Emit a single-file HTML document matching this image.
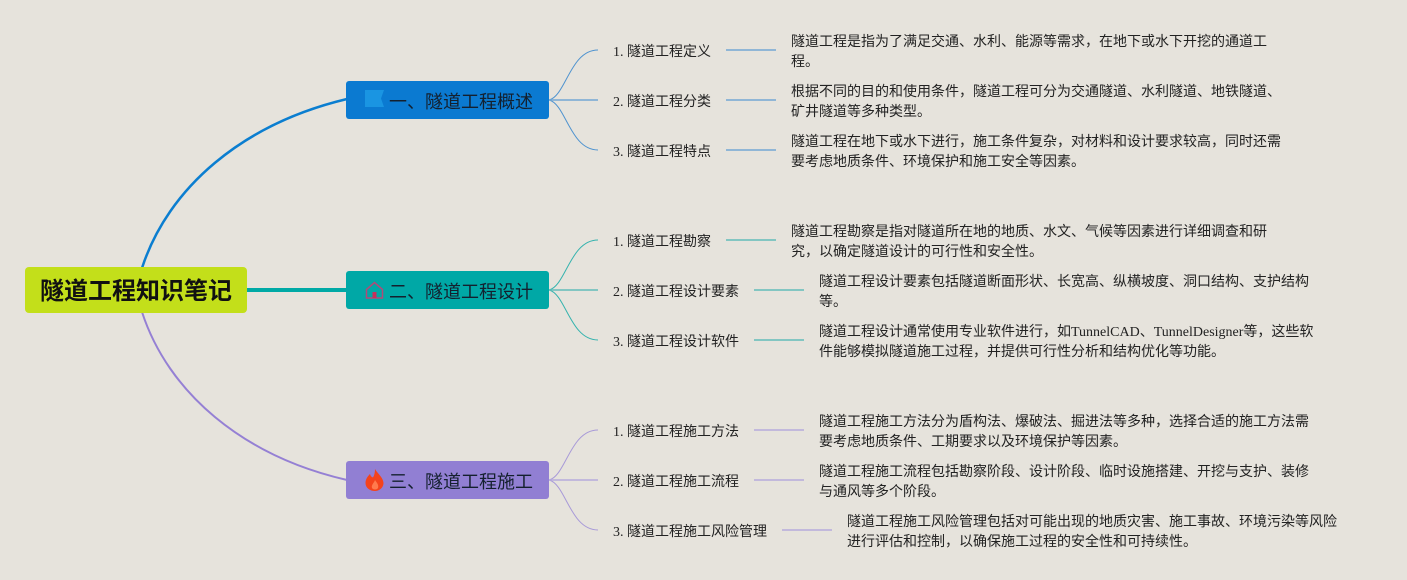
<!DOCTYPE html>
<html lang="zh">
<head>
<meta charset="utf-8">
<style>
html,body{margin:0;padding:0;width:1407px;height:580px;overflow:hidden;background:#e6e3dc}
body{position:relative;font-family:"Liberation Serif","WenQuanYi Zen Hei","Noto Sans CJK SC",serif;color:#222}
#w{position:absolute;left:0;top:0;width:1407px;height:580px;filter:blur(0.35px)}
svg{position:absolute;left:0;top:0}
.t{position:absolute;font-size:14px;line-height:20px;white-space:nowrap}
.b{position:absolute;border-radius:3px;height:38px;width:203px;left:346px;line-height:38px;font-size:18px;color:#14202e;white-space:nowrap}
.b span{position:absolute;left:43px;top:2px}
.r{position:absolute;left:25px;top:267px;width:222px;height:46px;background:#c3df1a;border-radius:4px;font-size:24px;font-weight:bold;line-height:50px;text-align:center;color:#111;white-space:nowrap}
</style>
</head>
<body>
<div id="w">
<svg width="1407" height="580" viewBox="0 0 1407 580" fill="none">
<path d="M142 268C168 188 242 124 347 99" stroke="#0b7ed0" stroke-width="2.5"/>
<path d="M247 290H347" stroke="#00a9a5" stroke-width="4"/>
<path d="M142 312C168 392 242 456 347 480" stroke="#9580d4" stroke-width="2"/>
<g stroke="#4f93cf" stroke-width="1">
<path d="M549 100C566 96 570 50 598 50"/><path d="M549 100C566 104 570 150 598 150"/>
<path d="M549 100H598" stroke-width="1.500" stroke="#74a8d4"/>
<path d="M726 50H776M726 100H776M726 150H776" stroke-width="1.500" stroke="#74a8d4"/>
</g>
<g stroke="#35b3ae" stroke-width="1">
<path d="M549 290C566 286 570 240 598 240"/><path d="M549 290C566 294 570 340 598 340"/>
<path d="M549 290H598" stroke-width="1.500" stroke="#62bdb9"/>
<path d="M726 240H776M754 290H804M754 340H804" stroke-width="1.500" stroke="#62bdb9"/>
</g>
<g stroke="#a89ad8" stroke-width="1">
<path d="M549 480C566 476 570 430 598 430"/><path d="M549 480C566 484 570 530 598 530"/>
<path d="M549 480H598" stroke-width="1.500" stroke="#b6abdc"/>
<path d="M754 430H804M754 480H804M782 530H832" stroke-width="1.500" stroke="#b6abdc"/>
</g>
</svg>

<div class="r">隧道工程知识笔记</div>

<div class="b" style="top:81px;background:#0b7ad1"><span>一、隧道工程概述</span></div>
<div class="b" style="top:271px;background:#00a8a6"><span>二、隧道工程设计</span></div>
<div class="b" style="top:461px;background:#917fd3"><span>三、隧道工程施工</span></div>

<svg width="1407" height="580" viewBox="0 0 1407 580" fill="none">
<path d="M365 90H384L381 98.500L384 107H365Z" fill="#1a95e2"/>
<path d="M366.500 289.500L374.500 282.500L382.500 289.500V298H366.500Z" stroke="#b24a78" stroke-width="1.500"/>
<rect x="372.500" y="292" width="4" height="6" fill="#c8305c"/>
<path d="M375 469C377 473 383 477 383.500 483C383.500 488 379 491 375 491C370 491 365.500 488 365.500 483C365.500 479 368 476 370 474C370.500 476 371.500 477 373 477.500C374.500 475 375 472 375 469Z" fill="#f4431c"/>
<path d="M375 480C377 483 379 485 378 488C377 490 373 490 372 488C371 485 374 483 375 480Z" fill="#ff7a4d"/>
</svg>

<div class="t" style="left:613px;top:43px">1. 隧道工程定义</div>
<div class="t" style="left:613px;top:93px">2. 隧道工程分类</div>
<div class="t" style="left:613px;top:143px">3. 隧道工程特点</div>
<div class="t" style="left:613px;top:233px">1. 隧道工程勘察</div>
<div class="t" style="left:613px;top:283px">2. 隧道工程设计要素</div>
<div class="t" style="left:613px;top:333px">3. 隧道工程设计软件</div>
<div class="t" style="left:613px;top:423px">1. 隧道工程施工方法</div>
<div class="t" style="left:613px;top:473px">2. 隧道工程施工流程</div>
<div class="t" style="left:613px;top:523px">3. 隧道工程施工风险管理</div>

<div class="t" style="left:791px;top:33px">隧道工程是指为了满足交通、水利、能源等需求，在地下或水下开挖的通道工<br>程。</div>
<div class="t" style="left:791px;top:83px">根据不同的目的和使用条件，隧道工程可分为交通隧道、水利隧道、地铁隧道、<br>矿井隧道等多种类型。</div>
<div class="t" style="left:791px;top:133px">隧道工程在地下或水下进行，施工条件复杂，对材料和设计要求较高，同时还需<br>要考虑地质条件、环境保护和施工安全等因素。</div>
<div class="t" style="left:791px;top:223px">隧道工程勘察是指对隧道所在地的地质、水文、气候等因素进行详细调查和研<br>究，以确定隧道设计的可行性和安全性。</div>
<div class="t" style="left:819px;top:273px">隧道工程设计要素包括隧道断面形状、长宽高、纵横坡度、洞口结构、支护结构<br>等。</div>
<div class="t" style="left:819px;top:323px">隧道工程设计通常使用专业软件进行，如TunnelCAD、TunnelDesigner等，这些软<br>件能够模拟隧道施工过程，并提供可行性分析和结构优化等功能。</div>
<div class="t" style="left:819px;top:413px">隧道工程施工方法分为盾构法、爆破法、掘进法等多种，选择合适的施工方法需<br>要考虑地质条件、工期要求以及环境保护等因素。</div>
<div class="t" style="left:819px;top:463px">隧道工程施工流程包括勘察阶段、设计阶段、临时设施搭建、开挖与支护、装修<br>与通风等多个阶段。</div>
<div class="t" style="left:847px;top:513px">隧道工程施工风险管理包括对可能出现的地质灾害、施工事故、环境污染等风险<br>进行评估和控制，以确保施工过程的安全性和可持续性。</div>
</div>
</body>
</html>
